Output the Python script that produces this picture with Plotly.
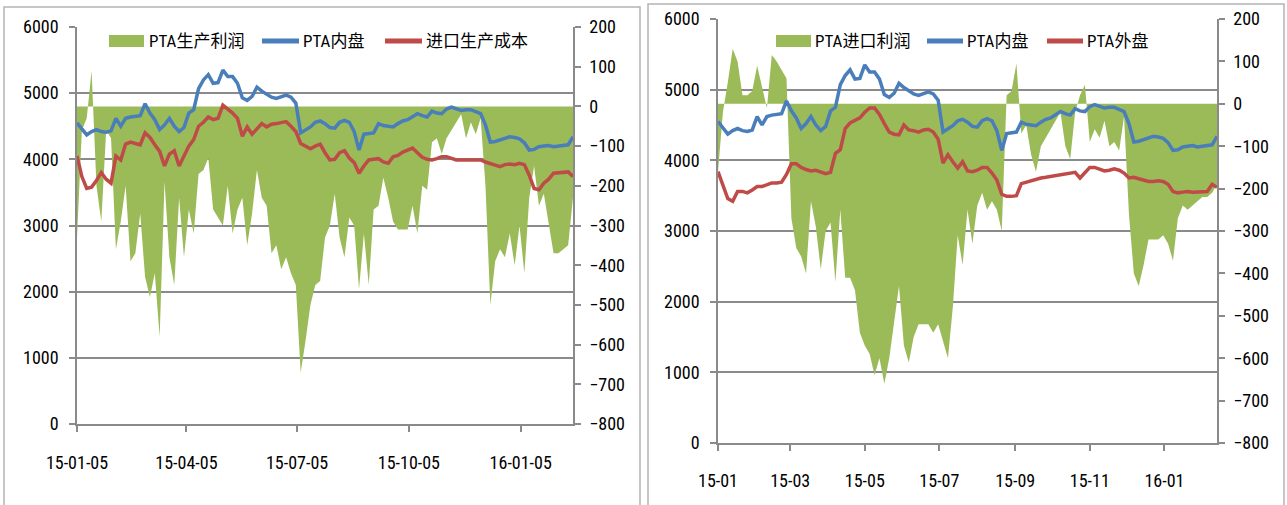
import pandas as pd
import plotly.graph_objects as go

# ---------------- data ----------------
dates = pd.date_range("2015-01-05", periods=103, freq="4D")

pta_domestic = [
    4550, 4450, 4370, 4420, 4450, 4420, 4410, 4430, 4620, 4500,
    4620, 4640, 4650, 4660, 4840, 4700, 4600, 4450, 4520, 4620,
    4500, 4420, 4480, 4700, 4750, 5070, 5200, 5280, 5150, 5160,
    5350, 5250, 5250, 5150, 4930, 4890, 4950, 5090, 5030, 4980,
    4940, 4920, 4950, 4970, 4940, 4850, 4400, 4450, 4490, 4560,
    4580, 4540, 4480, 4470, 4560, 4590, 4560, 4420, 4140, 4380,
    4390, 4400, 4540, 4510, 4500, 4490, 4540, 4580, 4600, 4650,
    4690, 4660, 4640, 4730, 4700, 4690, 4760, 4790, 4760, 4740,
    4750, 4750, 4720, 4690, 4520, 4260, 4270, 4290, 4320, 4340,
    4330, 4310, 4250, 4140, 4150, 4190, 4200, 4210, 4190, 4200,
    4210, 4220, 4340,
]

import_cost = [
    4050, 3740, 3560, 3580, 3680, 3800, 3700, 3640, 4050, 3990,
    4230, 4260, 4240, 4220, 4400, 4330, 4220, 4120, 3900, 4080,
    4130, 3900, 4050, 4200, 4300, 4500, 4560, 4640, 4600, 4620,
    4820, 4760, 4700, 4620, 4350, 4490, 4380, 4460, 4540, 4490,
    4530, 4540, 4550, 4570, 4500, 4420, 4240, 4200, 4160, 4200,
    4230, 4100, 3990, 4000, 4100, 4130, 4020, 3950, 3790, 3900,
    3990, 4000, 4010, 3960, 3940, 4040, 4060, 4110, 4140, 4170,
    4100, 4030, 4000, 3990, 4010, 4040, 4040, 4010, 3990, 3990,
    3990, 3990, 3980, 3990, 3960, 3940, 3910, 3890, 3920, 3930,
    3920, 3940, 3920, 3760, 3560, 3540, 3640, 3700, 3790, 3800,
    3800, 3810, 3740,
]

production_profit = [
    -330, -60, -30, 90, -200, -290, -60, -80, -360, -290,
    -200, -390, -370, -270, -430, -480, -420, -580, -190, -380,
    -450, -230, -380, -260, -320, -170, -160, -130, -260, -280,
    -300, -200, -320, -260, -230, -350, -270, -160, -230, -250,
    -370, -350, -410, -380, -420, -450, -670, -590, -500, -450,
    -440, -330, -300, -220, -330, -380, -280, -300, -460, -320,
    -450, -260, -250, -180, -230, -290, -310, -310, -310, -250,
    -320, -200, -210, -90, -80, -120, -80, -60, -40, -20,
    -80, -40, -70, -30, -200, -500, -390, -360, -380, -320,
    -400, -300, -420, -230, -150, -250, -220, -290, -370, -370,
    -360, -350, -230,
]

pta_foreign = [
    3840, 3640, 3460, 3420, 3560, 3560, 3540, 3580, 3630, 3630,
    3650, 3680, 3680, 3690, 3800, 3950, 3950, 3900, 3870, 3850,
    3860, 3830, 3810, 3830, 4100, 4150, 4450, 4530, 4560, 4600,
    4680, 4740, 4740, 4650, 4520, 4400, 4370, 4360, 4500, 4430,
    4420, 4400, 4430, 4440, 4400, 4300, 3960, 4080, 3980, 3890,
    3980, 3850, 3840, 3860, 3900, 3900, 3820, 3720, 3520, 3490,
    3490, 3500, 3670, 3690, 3720, 3740, 3750, 3760, 3770, 3790,
    3800, 3810, 3820, 3830, 3750, 3830, 3900, 3900, 3880, 3850,
    3860, 3880, 3860, 3820, 3750, 3760, 3740, 3720, 3700, 3700,
    3710, 3700, 3660, 3560, 3540, 3550, 3560, 3550, 3550, 3560,
    3560, 3660, 3620,
]

import_profit = [
    -160, -20, 50, 130, 100, 20, 20, 30, 90, 40,
    -10, 115, 100, 80, 60, -270, -340, -360, -400, -230,
    -290, -390, -300, -280, -420, -250, -410, -410, -440, -540,
    -570, -590, -640, -600, -660, -600, -520, -430, -570, -610,
    -550, -520, -520, -520, -540, -520, -560, -600, -480, -310,
    -380, -250, -330, -240, -210, -250, -230, -250, -300, 20,
    30, 95, -70, -50, -120, -160, -100, -80, -60, -40,
    -20, -100, -130, -20, 20, 45, -90, -60, -80, -40,
    -100, -90, -110, -30, -260, -400, -430, -380, -320, -320,
    -320, -310, -330, -370, -270, -240, -250, -240, -230, -220,
    -220, -210, -190,
]

left_tickvals = ["2015-01-05", "2015-04-05", "2015-07-05", "2015-10-05", "2016-01-05"]
left_ticktext = ["15-01-05", "15-04-05", "15-07-05", "15-10-05", "16-01-05"]
right_tickvals = ["2015-01-05", "2015-03-05", "2015-05-05", "2015-07-05",
                  "2015-09-05", "2015-11-05", "2016-01-05"]
right_ticktext = ["15-01", "15-03", "15-05", "15-07", "15-09", "15-11", "16-01"]

names_left = ["PTA生产利润", "PTA内盘", "进口生产成本"]
names_right = ["PTA进口利润", "PTA内盘", "PTA外盘"]

# ---------------- style ----------------
W, H = 1287, 505
GREEN = "#9BBB59"
BLUE = "#4A7EBB"
RED = "#BE4B48"
AX = "#8a8a8a"
FONT = "Liberation Sans Narrow, Arial Narrow, Roboto Condensed, DejaVu Sans Condensed, Liberation Sans, Noto Sans CJK SC, sans-serif"
X_RANGE = ["2015-01-05", "2016-02-17"]
LW = 3.5


def px(x):
    return x / W


def py(y):
    return 1 - y / H


fig = go.Figure()

# left chart
fig.add_trace(go.Scatter(x=dates, y=production_profit, name=names_left[0], mode="lines",
                         line=dict(width=0, color=GREEN), fill="tozeroy", fillcolor=GREEN,
                         xaxis="x", yaxis="y", showlegend=False))
fig.add_trace(go.Scatter(x=dates, y=pta_domestic, name=names_left[1], mode="lines",
                         line=dict(width=LW, color=BLUE), xaxis="x", yaxis="y2", showlegend=False))
fig.add_trace(go.Scatter(x=dates, y=import_cost, name=names_left[2], mode="lines",
                         line=dict(width=LW, color=RED), xaxis="x", yaxis="y2", showlegend=False))

# right chart
fig.add_trace(go.Scatter(x=dates, y=import_profit, name=names_right[0], mode="lines",
                         line=dict(width=0, color=GREEN), fill="tozeroy", fillcolor=GREEN,
                         xaxis="x2", yaxis="y3", showlegend=False))
fig.add_trace(go.Scatter(x=dates, y=pta_domestic, name=names_right[1], mode="lines",
                         line=dict(width=LW, color=BLUE), xaxis="x2", yaxis="y4", showlegend=False))
fig.add_trace(go.Scatter(x=dates, y=pta_foreign, name=names_right[2], mode="lines",
                         line=dict(width=LW, color=RED), xaxis="x2", yaxis="y4", showlegend=False))

tickfont = dict(family=FONT, size=18, color="#000000")


def xaxis_cfg(domain, anchor, tickvals, ticktext, standoff):
    return dict(domain=domain, anchor=anchor, type="date", range=X_RANGE, automargin=False,
                tickmode="array", tickvals=tickvals, ticktext=ticktext,
                ticks="outside", ticklen=6, tickcolor=AX, tickwidth=1.5, showline=True,
                linecolor=AX, linewidth=1.5, showgrid=False, zeroline=False, tickfont=tickfont,
                ticklabelstandoff=standoff)


def yright_cfg(domain, anchor):
    return dict(domain=domain, anchor=anchor, side="right", range=[-800, 200], dtick=100,
                tick0=0, ticks="outside", ticklen=6, tickcolor=AX, tickwidth=1.5, showline=True,
                linecolor=AX, linewidth=1.5, showgrid=False, zeroline=False, automargin=False,
                tickfont=tickfont, ticklabelstandoff=5)


def yleft_cfg(overlay, anchor):
    return dict(overlaying=overlay, anchor=anchor, side="left", range=[0, 6000], dtick=1000,
                ticks="outside", ticklen=6, tickcolor=AX, tickwidth=1.5, showline=True,
                linecolor=AX, linewidth=1.5, showgrid=True, gridcolor=AX, gridwidth=1.5,
                zeroline=False, automargin=False, tickfont=tickfont, ticklabelstandoff=7)


# ---- manual legends (symbol shapes + text annotations) ----
LEG_Y = 41
legend_specs = [
    # (kind, color, x0, x1, text, text_x)
    ("box", GREEN, 109, 144, names_left[0], 147),
    ("line", BLUE, 262, 299, names_left[1], 301),
    ("line", RED, 385, 422, names_left[2], 424),
    ("box", GREEN, 776, 811, names_right[0], 813),
    ("line", BLUE, 927, 963, names_right[1], 965),
    ("line", RED, 1047, 1083, names_right[2], 1085),
]

shapes = [
    dict(type="rect", xref="paper", yref="paper", x0=px(4), x1=px(640), y0=py(506), y1=py(7),
         line=dict(color="#b4b4b4", width=1.5), fillcolor="rgba(0,0,0,0)", layer="below"),
    dict(type="rect", xref="paper", yref="paper", x0=px(648), x1=px(1284), y0=py(506), y1=py(4),
         line=dict(color="#b4b4b4", width=1.5), fillcolor="rgba(0,0,0,0)", layer="below"),
]
annotations = []
for kind, color, x0, x1, text, tx in legend_specs:
    if kind == "box":
        shapes.append(dict(type="rect", xref="paper", yref="paper", x0=px(x0), x1=px(x1),
                           y0=py(LEG_Y + 6), y1=py(LEG_Y - 6), fillcolor=color,
                           line=dict(width=0), layer="above"))
    else:
        shapes.append(dict(type="line", xref="paper", yref="paper", x0=px(x0), x1=px(x1),
                           y0=py(LEG_Y), y1=py(LEG_Y), line=dict(color=color, width=5),
                           layer="above"))
    annotations.append(dict(text=text, xref="paper", yref="paper", x=px(tx), y=py(LEG_Y),
                            xanchor="left", yanchor="middle", showarrow=False,
                            font=dict(family=FONT, size=17, color="#000000")))

fig.update_layout(
    template="none",
    width=W, height=H,
    margin=dict(l=0, r=0, t=0, b=0, autoexpand=False),
    paper_bgcolor="white", plot_bgcolor="rgba(0,0,0,0)",
    font=dict(family=FONT, size=18, color="#000000"),
    showlegend=False,
    xaxis=xaxis_cfg([px(77), px(573)], "y", left_tickvals, left_ticktext, 16),
    yaxis=yright_cfg([py(424), py(27)], "x"),
    yaxis2=yleft_cfg("y", "x"),
    xaxis2=xaxis_cfg([px(718), px(1217)], "y3", right_tickvals, right_ticktext, 15),
    yaxis3=yright_cfg([py(443), py(19)], "x2"),
    yaxis4=yleft_cfg("y3", "x2"),
    shapes=shapes,
    annotations=annotations,
)

fig.write_html("out.html")
